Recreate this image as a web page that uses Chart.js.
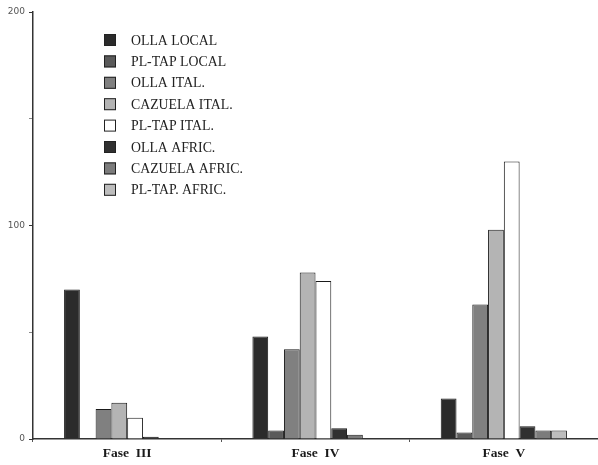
<!DOCTYPE html>
<html>
<head>
<meta charset="utf-8">
<script src="https://cdn.jsdelivr.net/npm/chart.js@4"></script>
<style>
  html, body { margin: 0; padding: 0; background: #fff; }
  #wrap { width: 598px; height: 465px; }
</style>
</head>
<body>
<div id="wrap"><canvas id="chart"></canvas></div>
<script>
// Data
const fases = ['Fase  III', 'Fase  IV', 'Fase  V'];
const seriesNames = ['OLLA LOCAL', 'PL-TAP LOCAL', 'OLLA ITAL.', 'CAZUELA ITAL.',
    'PL-TAP ITAL.', 'OLLA AFRIC.', 'CAZUELA AFRIC.', 'PL-TAP. AFRIC.'];
const ollaLocal = [70, 48, 19];
const pltapLocal = [0, 4, 3];
const ollaItal = [14, 42, 63];
const cazuelaItal = [17, 78, 98];
const pltapItal = [10, 74, 130];
const ollaAfric = [1, 5, 6];
const cazuelaAfric = [0, 2, 4];
const pltapAfric = [0, 0, 4];
const yTicks = [0, 100, 200];

const fills = ['#2b2b2b', '#5a5a5a', '#808080', '#b4b4b4', '#ffffff', '#303030', '#7c7c7c', '#bdbdbd'];
const allValues = [ollaLocal, pltapLocal, ollaItal, cazuelaItal, pltapItal, ollaAfric, cazuelaAfric, pltapAfric];

// Legend drawn inside the plot, top left
const boxLegend = {
    id: 'boxLegend',
    afterDraw(chart) {
        const ctx = chart.ctx;
        ctx.save();
        ctx.font = '13.8px "Liberation Serif", serif';
        ctx.textBaseline = 'middle';
        chart.data.datasets.forEach((ds, i) => {
            const y = 40 + i * 21.4;
            ctx.fillStyle = ds.backgroundColor;
            ctx.fillRect(104, y - 6, 12, 12);
            ctx.strokeStyle = '#222';
            ctx.lineWidth = 1;
            ctx.strokeRect(104.5, y - 5.5, 11, 11);
            ctx.fillStyle = '#222';
            ctx.fillText(ds.label, 131, y + 1);
        });
        ctx.restore();
    }
};

new Chart(document.getElementById('chart'), {
    type: 'bar',
    data: {
        labels: fases,
        datasets: seriesNames.map((name, i) => ({
            label: name,
            data: allValues[i],
            backgroundColor: fills[i],
            borderColor: '#1a1a1a',
            borderWidth: 1,
            borderSkipped: 'bottom'
        }))
    },
    options: {
        responsive: true,
        maintainAspectRatio: false,
        animation: false,
        devicePixelRatio: 1,
        layout: { padding: { top: 12, right: 0, left: 0, bottom: 0 } },
        categoryPercentage: 0.67,
        barPercentage: 1,
        plugins: {
            legend: { display: false },
            tooltip: { enabled: false }
        },
        scales: {
            x: {
                grid: {
                    offset: true,
                    drawOnChartArea: false,
                    tickLength: 3,
                    color: '#555'
                },
                border: { color: '#333', width: 1.5 },
                ticks: {
                    padding: 3,
                    color: '#1a1a1a',
                    font: { family: '"Liberation Serif", serif', size: 13.5, weight: 'bold' }
                },
                afterFit(scale) { scale.height = 26; }
            },
            y: {
                min: 0,
                max: 200,
                grid: {
                    drawOnChartArea: false,
                    tickLength: 4,
                    color: ctx => (yTicks.includes(ctx.tick.value) ? '#333' : '#888')
                },
                border: { color: '#333', width: 1.5 },
                ticks: {
                    stepSize: 50,
                    padding: 4,
                    color: '#555',
                    font: { family: '"DejaVu Sans", sans-serif', size: 9 },
                    callback: v => (yTicks.includes(v) ? v : '')
                },
                afterFit(scale) { scale.width = 33; }
            }
        }
    },
    plugins: [boxLegend]
});
</script>
</body>
</html>
